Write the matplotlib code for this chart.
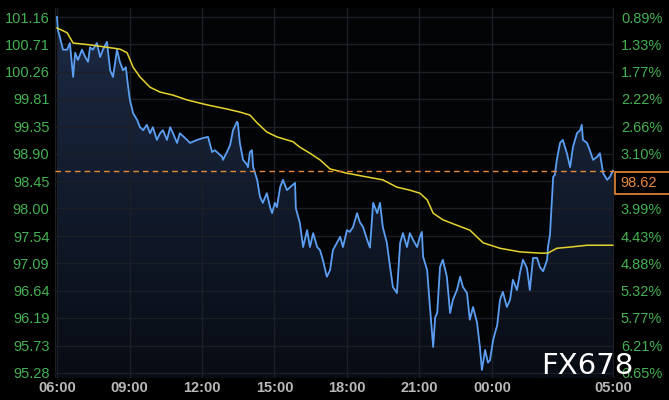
import matplotlib
matplotlib.use("Agg")
import matplotlib.pyplot as plt
import numpy as np
from matplotlib.patches import Polygon, Rectangle

# ---- data (minutes after 06:00) ----
price_min = [0, 2, 7, 15, 25, 32, 40, 45, 52, 62, 70, 77, 82, 89, 99, 107, 114, 124, 132, 139,
             149, 156, 164, 171, 176, 181, 189, 199, 206, 214, 223, 231, 238, 248, 256, 263, 273,
             281, 288, 298, 305, 323, 330, 348, 362, 375, 385, 392, 400, 410, 412, 422, 430, 437,
             447, 449, 454, 462, 472, 474, 479, 484, 487, 497, 504, 511, 521, 529, 534, 541, 546,
             554, 561, 571, 579, 586, 591, 593, 603, 611, 621, 628, 636, 646, 653, 660, 670, 678,
             685, 695, 703, 710, 720, 727, 735, 745, 752, 760, 770, 777, 785, 795, 802, 809, 819,
             827, 834, 844, 852, 859, 869, 876, 884, 894, 901, 906, 909, 919, 926, 934, 939, 944,
             951, 958, 968, 976, 983, 993, 1001, 1008, 1018, 1025, 1033, 1043, 1050, 1055, 1063,
             1070, 1075, 1083, 1093, 1100, 1107, 1117, 1125, 1132, 1142, 1150, 1157, 1167, 1174,
             1182, 1192, 1199, 1207, 1217, 1219, 1224, 1229, 1232, 1236, 1241, 1249, 1256, 1266,
             1274, 1281, 1291, 1299, 1303, 1306, 1316, 1323, 1331, 1341, 1348, 1356, 1366, 1373,
             1380]
price = [101.16, 100.95, 100.83, 100.62, 100.62, 100.73, 100.17, 100.57, 100.45, 100.62, 100.50,
         100.42, 100.66, 100.62, 100.73, 100.50, 100.62, 100.75, 100.28, 100.17, 100.62, 100.42,
         100.28, 100.33, 100.04, 99.79, 99.57, 99.46, 99.34, 99.29, 99.38, 99.24, 99.34, 99.13,
         99.24, 99.29, 99.13, 99.34, 99.24, 99.08, 99.24, 99.13, 99.08, 99.13, 99.16, 99.18,
         98.93, 98.96, 98.91, 98.85, 98.80, 98.93, 99.05, 99.29, 99.43, 99.41, 99.08, 98.80,
         98.72, 98.68, 98.93, 98.96, 98.68, 98.47, 98.19, 98.09, 98.25, 98.02, 97.92, 98.09,
         98.02, 98.35, 98.47, 98.30, 98.35, 98.39, 98.42, 98.00, 97.76, 97.36, 97.64, 97.36,
         97.59, 97.36, 97.31, 97.15, 96.87, 96.98, 97.31, 97.43, 97.53, 97.36, 97.64, 97.61,
         97.69, 97.92, 97.77, 97.69, 97.48, 97.35, 98.09, 97.92, 98.09, 97.69, 97.43, 97.03,
         96.70, 96.60, 97.43, 97.59, 97.36, 97.59, 97.48, 97.36, 97.53, 97.61, 97.20, 96.98,
         96.37, 95.71, 96.20, 96.27, 97.03, 97.15, 96.87, 96.27, 96.49, 96.65, 96.87, 96.70,
         96.60, 96.16, 96.37, 96.11, 95.71, 95.33, 95.66, 95.45, 95.49, 95.83, 96.07, 96.49,
         96.62, 96.37, 96.49, 96.82, 96.65, 96.95, 97.15, 97.01, 96.65, 97.18, 97.18, 97.03,
         96.96, 97.15, 97.36, 97.56, 98.14, 98.52, 98.55, 98.80, 99.08, 99.13, 98.91, 98.68,
         99.01, 99.24, 99.29, 99.38, 99.13, 99.08, 98.96, 98.80, 98.85, 98.91, 98.58, 98.47,
         98.52, 98.62]

avg_min = [0, 25, 40, 82, 124, 156, 174, 189, 206, 231, 256, 288, 323, 372, 422, 454, 479, 497,
           521, 546, 571, 586, 603, 628, 653, 678, 720, 760, 809, 844, 876, 901, 919, 934, 958,
           993, 1025, 1058, 1100, 1150, 1199, 1219, 1241, 1274, 1316, 1380]
avg = [100.98, 100.90, 100.73, 100.70, 100.66, 100.63, 100.57, 100.33, 100.17, 100.00, 99.92,
       99.87, 99.79, 99.71, 99.64, 99.59, 99.54, 99.41, 99.26, 99.18, 99.13, 99.10, 99.01, 98.91,
       98.80, 98.65, 98.58, 98.53, 98.47, 98.35, 98.30, 98.25, 98.14, 97.92, 97.81, 97.72, 97.64,
       97.43, 97.34, 97.28, 97.26, 97.26, 97.34, 97.36, 97.39, 97.39]

last_price = 98.62
left_ticks = [101.16, 100.71, 100.26, 99.81, 99.35, 98.90, 98.45, 98.00, 97.54, 97.09, 96.64,
              96.19, 95.73, 95.28]
# the 3.54% label is hidden behind the last-price tag in the reference
right_labels = ['0.89%', '1.33%', '1.77%', '2.22%', '2.66%', '3.10%', '', '3.99%', '4.43%',
                '4.88%', '5.32%', '5.77%', '6.21%', '6.65%']
x_ticks = [0, 180, 360, 540, 720, 900, 1080, 1380]
x_labels = ['06:00', '09:00', '12:00', '15:00', '18:00', '21:00', '00:00', '05:00']

# ---- style ----
GREEN = '#45b152'
GRID = '#1c1f25'
BLUE = '#5b9ef2'
YELLOW = '#e6d42e'
ORANGE = '#e8893a'

fig = plt.figure(figsize=(6.69, 4.00), dpi=100, facecolor='black')
ax = fig.add_axes([55 / 669, 1 - 378 / 400, (614 - 55) / 669, (378 - 8) / 400])
ax.set_facecolor('#030406')

ylo, yhi = 95.197, 101.309
xlo, xhi = -5, 1383
ax.set_xlim(xlo, xhi)
ax.set_ylim(ylo, yhi)

ax.set_yticks(left_ticks)
ax.set_yticklabels([f'{v:.2f}' for v in left_ticks])
ax.set_xticks(x_ticks)
ax.set_xticklabels(x_labels)
ax.grid(True, color=GRID, linewidth=1.0, zorder=0)
ax.tick_params(axis='y', colors=GREEN, length=0, pad=4, labelsize=10.5)
ax.tick_params(axis='x', colors='#b9b9b9', length=0, pad=2, labelsize=10.5)
for lab in ax.get_yticklabels():
    lab.set_fontfamily('Liberation Sans')
for lab in ax.get_xticklabels():
    lab.set_fontfamily('Liberation Sans')
    lab.set_fontweight('bold')
for s in ax.spines.values():
    s.set_visible(False)
ax.axvline(xlo, color='#23262c', linewidth=1.2, zorder=1)
ax.axvline(xhi, color='#23262c', linewidth=1.2, zorder=1)

# gradient fill under price
verts = [(price_min[0], ylo)] + list(zip(price_min, price)) + [(price_min[-1], ylo)]
poly = Polygon(verts, closed=True, facecolor='none', edgecolor='none')
ax.add_patch(poly)
top_c = np.array([0x1c, 0x2a, 0x44]) / 255
bot_c = np.array([0x08, 0x0c, 0x14]) / 255
g = np.linspace(0, 1, 256)[:, None]
img = top_c[None, None, :] * (1 - g[:, :, None]) + bot_c[None, None, :] * g[:, :, None]
im = ax.imshow(img, extent=[xlo, xhi, ylo, max(price)], aspect='auto', origin='upper',
               zorder=1, interpolation='bilinear')
im.set_clip_path(poly)

ax.plot(price_min, price, color=BLUE, linewidth=1.3, zorder=3)
ax.plot(avg_min, avg, color=YELLOW, linewidth=1.1, zorder=4)
ax.axhline(last_price, color=ORANGE, linewidth=1.0, dashes=(4, 3), zorder=5)

# right percent axis
ax2 = ax.twinx()
ax2.set_ylim(ylo, yhi)
ax2.set_yticks(left_ticks)
ax2.set_yticklabels(right_labels)
ax2.tick_params(axis='y', colors=GREEN, length=0, pad=5, labelsize=10.5)
for lab in ax2.get_yticklabels():
    lab.set_fontfamily('Liberation Sans')
for s in ax2.spines.values():
    s.set_visible(False)

# last price tag (box runs off the right edge like the reference)
fig.patches.append(Rectangle((615 / 669, 1 - 194 / 400), 60 / 669, 22 / 400,
                             transform=fig.transFigure, facecolor='black', edgecolor=ORANGE,
                             linewidth=1.2, zorder=9))
fig.text(620 / 669, 1 - 183 / 400, f'{last_price:.2f}', color=ORANGE, fontsize=10.5,
         family='Liberation Sans', va='center', ha='left', zorder=10)

# watermark
fig.text(541 / 669, 1 - 374 / 400, 'FX678', color='white', fontsize=21, family='DejaVu Sans',
         va='baseline', ha='left', zorder=10)

fig.savefig('out.png', dpi=100, facecolor='black')
